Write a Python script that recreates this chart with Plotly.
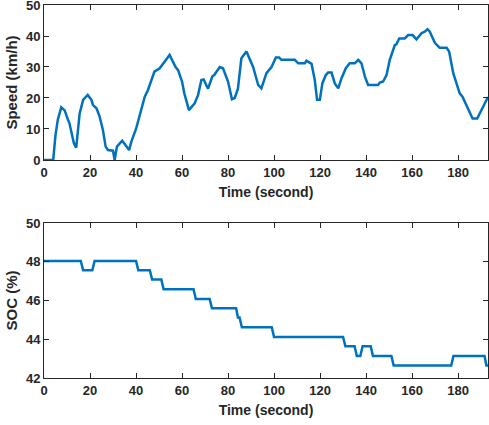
import plotly.graph_objects as go
from plotly.subplots import make_subplots

# Speed profile (time s, speed km/h)
speed_t = [0, 4, 5, 6, 7.5, 9, 10.4, 11, 13, 14, 15.5, 17, 19, 20.6, 21.3, 22.8, 24.2, 25.6, 26.8, 27.8,
           30, 30.7, 31.7, 34, 37, 38, 40, 41.6, 43.8, 45.2, 48, 50.3, 54.6, 57.2, 58.3, 60, 61, 63, 65.5,
           67, 68.4, 69.4, 71.3, 73.2, 74, 76.4, 77.8, 80, 81.7, 82.9, 84.3, 85.8, 88, 90.9, 93.1, 94.5,
           96.7, 98.9, 100.8, 102.2, 103.2, 109, 110.5, 113.4, 114.1, 116.3, 117.7, 118.7, 119.9, 121,
           122.5, 123.5, 125, 126.4, 127.9, 129.3, 131.2, 132.9, 135.1, 136.6, 138, 139.5, 140.9, 145.2,
           146, 147.4, 148.9, 150.3, 152.5, 153.2, 154.4, 156.8, 158.3, 160.2, 161.9, 164.1, 165.5,
           166.7, 167.7, 169.9, 172, 175, 176.1, 177.9, 180.7, 181.9, 184.4, 186.3, 188.3, 190.2, 192.3, 193]
speed_v = [0, 0, 8, 13, 17, 16, 13, 12, 5.4, 4, 15, 19.4, 21, 19.4, 17.7, 16.7, 14, 9.7, 4.3, 3.2,
           3, 0, 4.3, 6.2, 3.2, 6, 10, 14.5, 20.4, 22.6, 28.5, 29.6, 33.9, 30, 29, 25.3, 21.5, 16.1, 18.3,
           21, 25.8, 26, 23, 27, 27.4, 30, 29.6, 25.3, 19.6, 20, 23, 32.8, 35, 30, 24.2, 23.1,
           28, 30, 33.1, 33.1, 32.3, 32.3, 31.2, 31.2, 32, 31, 25.8, 19.4, 19.4, 24.7,
           27.4, 28.2, 28.2, 24.7, 23.1, 26.3, 29.6, 31.2, 31.2, 32.3, 31.2, 26.9, 24.2, 24.2,
           25, 25.3, 27.4, 32.3, 37.1, 37.3, 39.2, 39.2, 40.3, 40.3, 38.9, 40.9, 41.4,
           42.2, 41.4, 37.8, 36.2, 36.2, 35, 28, 21.5, 20.4, 16.1, 13.4, 13.4, 16.1, 19.4, 20.3]

# SOC profile (time s, SOC %)
soc_t = [0, 16, 17, 21, 22, 40, 41, 46, 47, 51, 52, 65, 66, 72, 73, 83.5, 84.3, 85, 86, 99, 100,
         130, 131, 135, 136, 137.5, 138.5, 142, 143, 151, 152, 177, 178, 191.5, 192.3, 193]
soc_v = [48.04, 48.04, 47.56, 47.56, 48.04, 48.04, 47.56, 47.56, 47.08, 47.08, 46.58, 46.58, 46.08,
         46.08, 45.6, 45.6, 45.12, 45.12, 44.62, 44.62, 44.12, 44.12, 43.64, 43.64, 43.14, 43.14,
         43.64, 43.64, 43.14, 43.14, 42.64, 42.64, 43.14, 43.14, 42.64, 42.64]

x_ticks = [0, 20, 40, 60, 80, 100, 120, 140, 160, 180]
speed_ticks = [0, 10, 20, 30, 40, 50]
soc_ticks = [42, 44, 46, 48, 50]

line_color = "#0072BD"
txt = "#262626"
font_family = "Liberation Sans, Arial, sans-serif"

fig = make_subplots(rows=2, cols=1, vertical_spacing=0.169)
fig.add_trace(go.Scatter(x=speed_t, y=speed_v, mode="lines",
                         line=dict(color=line_color, width=2.5), showlegend=False), row=1, col=1)
fig.add_trace(go.Scatter(x=soc_t, y=soc_v, mode="lines",
                         line=dict(color=line_color, width=2.5), showlegend=False), row=2, col=1)

axis_common = dict(showline=True, linecolor="#262626", linewidth=1, mirror="allticks",
                   ticks="inside", ticklen=5, tickcolor="#262626", showgrid=False, zeroline=False,
                   automargin=False, ticklabeloverflow="allow",
                   tickfont=dict(family=font_family, size=13, color=txt, weight="bold"))

for r in (1, 2):
    fig.update_xaxes(range=[0, 193], tickvals=x_ticks, title_text="Time (second)",
                     title_font=dict(family=font_family, size=14, color=txt, weight="bold"),
                     title_standoff=8, row=r, col=1, **axis_common)

fig.update_yaxes(range=[0, 50], tickvals=speed_ticks, title_text="Speed (km/h)",
                 title_font=dict(family=font_family, size=15, color=txt, weight="bold"),
                 title_standoff=4, row=1, col=1, **axis_common)
fig.update_yaxes(range=[42, 50], tickvals=soc_ticks, title_text="SOC (%)",
                 title_font=dict(family=font_family, size=15, color=txt, weight="bold"),
                 title_standoff=4, row=2, col=1, **axis_common)

fig.update_layout(width=489, height=425, margin=dict(l=44, r=1, t=5, b=47),
                  plot_bgcolor="white", paper_bgcolor="white",
                  font=dict(family=font_family, color=txt))
fig.update_layout(yaxis=dict(domain=[0.5845, 1.0]), yaxis2=dict(domain=[0.0, 0.4155]))

fig.write_html("out.html", config={"displayModeBar": False},
               post_script="document.body.style.margin='0';")
